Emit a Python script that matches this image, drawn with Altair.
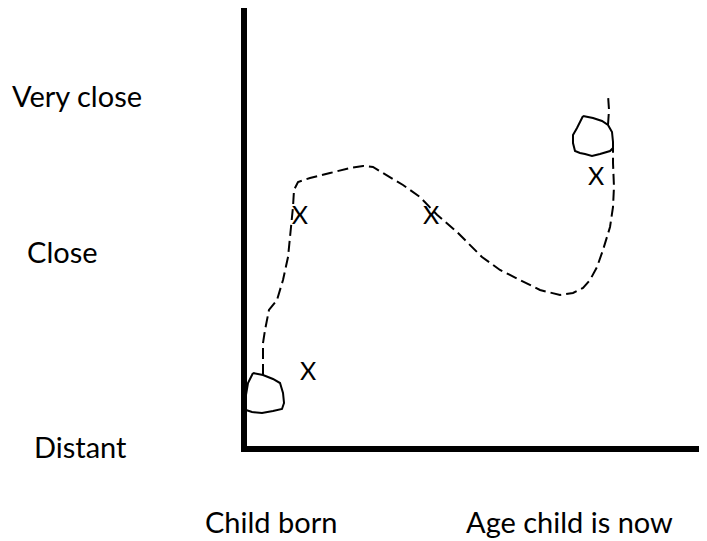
import altair as alt
import pandas as pd

# ---- data (x: time since child born, 0-100; y: closeness, 0-100) ----
path_lower_x = [4.13, 4.13, 4.57, 5.43, 7.17, 8.48, 9.57, 10.22, 10.65, 10.87, 11.74, 14.35,
                18.70, 23.04, 25.87, 28.04, 30.22, 34.57, 38.26, 41.96, 46.30, 50.65, 51.74,
                55.65, 60.0, 64.35, 68.70, 71.52, 73.70, 75.22, 76.74, 78.04, 79.57, 80.22,
                80.43, 80.22, 80.22]
path_lower_y = [16.74, 23.98, 26.92, 31.45, 33.71, 38.24, 43.44, 50.23, 54.75, 58.60, 60.41, 61.31,
                62.44, 63.57, 64.03, 63.80, 62.44, 59.73, 57.01, 53.0, 49.10, 44.57, 43.44,
                40.50, 38.24, 35.97, 34.84, 35.29, 36.43, 38.24, 41.18, 45.02, 50.23, 54.75,
                59.28, 64.71, 68.10]
path_upper_x = [79.13, 79.35, 79.13]
path_upper_y = [73.30, 76.70, 80.09]

blob_start_x = [1.96, 4.13, 6.30, 7.83, 8.48, 8.70, 8.26, 6.30, 3.91, 1.74, 0.43, 0.43, 0.87, 1.96]
blob_start_y = [17.19, 16.74, 15.84, 14.93, 12.67, 10.41, 9.05, 8.60, 8.14, 8.37, 8.82, 12.22, 14.93, 17.19]
blob_now_x = [73.70, 75.87, 77.83, 79.13, 80.0, 80.22, 80.22, 79.57, 77.39, 75.65, 74.13, 73.04,
              71.96, 71.52, 71.52, 72.39, 73.70]
blob_now_y = [75.34, 74.89, 74.21, 73.30, 71.72, 69.46, 68.10, 67.42, 66.74, 66.29, 66.74, 66.97,
              67.42, 69.23, 71.04, 72.62, 75.34]

marks_x = [12.17, 40.65, 13.91, 76.52]
marks_y = [50.90, 50.90, 15.61, 59.73]
mark_text = ["X", "X", "X", "X"]

level_labels = ["Very close", "Close", "Distant"]
level_x = [-50.43, -47.17, -45.65]
level_y = [77.38, 42.08, -2.04]

time_labels = ["Child born", "Age child is now"]
time_x = [-8.48, 48.26]
time_y = [-19.0, -19.0]

# ---- tables ----
path_df = pd.DataFrame({
    "x": path_lower_x + path_upper_x,
    "y": path_lower_y + path_upper_y,
    "seg": ["lower"] * len(path_lower_x) + ["upper"] * len(path_upper_x),
    "i": list(range(len(path_lower_x))) + list(range(len(path_upper_x))),
})
blob_df = pd.DataFrame({
    "x": blob_start_x + blob_now_x,
    "y": blob_start_y + blob_now_y,
    "blob": ["start"] * len(blob_start_x) + ["now"] * len(blob_now_x),
    "i": list(range(len(blob_start_x))) + list(range(len(blob_now_x))),
})
marks_df = pd.DataFrame({"x": marks_x, "y": marks_y, "t": mark_text})
level_df = pd.DataFrame({"x": level_x, "y": level_y, "t": level_labels})
time_df = pd.DataFrame({"x": time_x, "y": time_y, "t": time_labels})
vaxis_df = pd.DataFrame({"x": [0.0], "y": [100.0], "y2": [-0.7]})
haxis_df = pd.DataFrame({"x": [-0.65], "x2": [100.0], "y": [0.0]})

xs = alt.Scale(domain=[0, 100], range=[236, 696], nice=False, zero=False)
ys = alt.Scale(domain=[0, 100], range=[441, -1], nice=False, zero=False)
X = lambda f="x": alt.X(f"{f}:Q", scale=xs, axis=None)
Y = lambda f="y": alt.Y(f"{f}:Q", scale=ys, axis=None)

FONT = "Lato"

vaxis = alt.Chart(vaxis_df).mark_rule(color="black", strokeWidth=6, strokeCap="butt").encode(
    x=X(), y=Y(), y2="y2:Q")
haxis = alt.Chart(haxis_df).mark_rule(color="black", strokeWidth=6, strokeCap="butt").encode(
    x=X(), x2="x2:Q", y=Y())

path = alt.Chart(path_df).mark_line(color="black", strokeWidth=2, strokeDash=[11, 5],
                                    interpolate="linear").encode(
    x=X(), y=Y(), detail="seg:N", order="i:Q")
blobs = alt.Chart(blob_df).mark_line(color="black", strokeWidth=2, interpolate="linear").encode(
    x=X(), y=Y(), detail="blob:N", order="i:Q")

marks = alt.Chart(marks_df).mark_text(font=FONT, fontSize=25, color="black", align="center",
                                      baseline="alphabetic").encode(x=X(), y=Y(), text="t:N")
levels = alt.Chart(level_df).mark_text(font=FONT, fontSize=29, color="black", align="left",
                                       baseline="alphabetic").encode(x=X(), y=Y(), text="t:N")
times = alt.Chart(time_df).mark_text(font=FONT, fontSize=29, color="black", align="left",
                                     baseline="alphabetic").encode(x=X(), y=Y(), text="t:N")

chart = alt.layer(vaxis, haxis, path, blobs, marks, levels, times).properties(
    width=691, height=533, autosize=alt.AutoSizeParams(type="none"), padding=0,
    background="white"
).configure_view(stroke=None)

chart.save("out.html", embed_options={"renderer": "svg", "actions": False})
